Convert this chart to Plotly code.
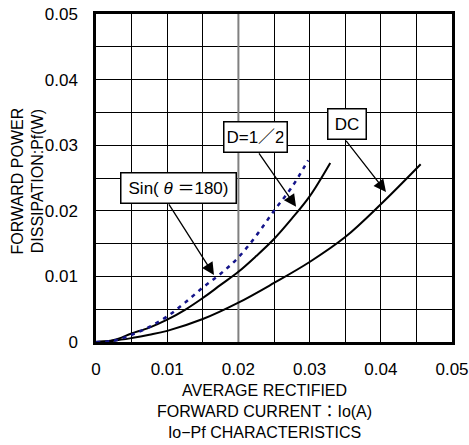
import plotly.graph_objects as go

# ---- data ----
io_dc = [0, 0.0025, 0.005, 0.0075, 0.01, 0.015, 0.02, 0.025, 0.03, 0.035, 0.04, 0.0456]
pf_dc = [0, 0.0002, 0.0006, 0.0011, 0.0017, 0.0035, 0.0060, 0.0090, 0.0122, 0.0160, 0.0210, 0.0271]

io_half = [0, 0.0025, 0.005, 0.0075, 0.01, 0.0125, 0.015, 0.0175, 0.02, 0.0225, 0.025, 0.0275, 0.03, 0.0329]
pf_half = [0, 0.0003, 0.0013, 0.0022, 0.0034, 0.0049, 0.0067, 0.0087, 0.0107, 0.0131, 0.0157, 0.0188, 0.0222, 0.0273]

io_sin = [0, 0.0025, 0.005, 0.0075, 0.01, 0.0125, 0.015, 0.0175, 0.02, 0.0225, 0.025, 0.0275, 0.0298]
pf_sin = [0, 0.0002, 0.0011, 0.0023, 0.0039, 0.0060, 0.0083, 0.0104, 0.0129, 0.0162, 0.0200, 0.0236, 0.0277]

x_ticks = [0, 0.01, 0.02, 0.03, 0.04, 0.05]
x_ticktext = ["0", "0.01", "0.02", "0.03", "0.04", "0.05"]
y_ticks = [0, 0.01, 0.02, 0.03, 0.04, 0.05]
y_ticktext = ["0", "0.01", "0.02", "0.03", "0.04", "0.05"]

FONT = "Liberation Sans, Arial, Noto Sans CJK JP, sans-serif"

fig = go.Figure()
# the 0.02 gridline is drawn grey and slightly heavier in the reference (drawn beneath the curves)
fig.add_trace(go.Scatter(x=[x_ticks[2], x_ticks[2]], y=[y_ticks[0], y_ticks[-1]], mode="lines",
                         line=dict(color="#808080", width=2), showlegend=False, hoverinfo="skip"))
fig.add_trace(go.Scatter(x=io_dc, y=pf_dc, mode="lines", line=dict(color="black", width=2, shape="spline"), showlegend=False))
fig.add_trace(go.Scatter(x=io_half, y=pf_half, mode="lines", line=dict(color="black", width=2, shape="spline"), showlegend=False))
fig.add_trace(go.Scatter(x=io_sin, y=pf_sin, mode="lines", line=dict(color="#14148a", width=2.5, shape="spline", dash="4px,5px"), showlegend=False))

axis_common = dict(
    range=[0, 0.05], showgrid=True, gridcolor="black", gridwidth=1,
    minor=dict(dtick=0.005, showgrid=True, gridcolor="black", gridwidth=1),
    showline=True, linecolor="black", linewidth=2.5, mirror=True,
    zeroline=False, ticks="", automargin=False,
    tickfont=dict(family=FONT, size=17, color="black"),
)
fig.update_xaxes(tickvals=x_ticks, ticktext=x_ticktext, ticklabelstandoff=10, **axis_common)
fig.update_yaxes(tickvals=y_ticks, ticktext=y_ticktext, ticklabelstandoff=12, **axis_common)

anns = []
# axis titles
anns.append(dict(xref="paper", yref="paper", x=0.4747, y=-0.2134, xanchor="center", yanchor="middle",
                 text="AVERAGE RECTIFIED<br>FORWARD CURRENT：Io(A)<br>Io−Pf CHARACTERISTICS",
                 showarrow=False, font=dict(family=FONT, size=16, color="black")))
anns.append(dict(xref="paper", yref="paper", x=-0.1924, y=0.491, xanchor="center", yanchor="middle",
                 text="FORWARD POWER<br>DISSIPATION:Pf(W)", textangle=-90,
                 showarrow=False, font=dict(family=FONT, size=16, color="black")))

box = dict(showarrow=False, bgcolor="white", bordercolor="black", borderwidth=1.5, borderpad=3,
           font=dict(family=FONT, size=17, color="black"), xanchor="center", yanchor="middle", height=23)
anns.append(dict(x=0.0224, y=0.03125, text="D=1／2", width=56, **box))
anns.append(dict(x=0.03525, y=0.0332, text="DC", width=31, **box))
anns.append(dict(x=0.01159, y=0.02355, text="Sin( <i>θ</i> ＝180)", width=108, **box))

arrow = dict(text="", showarrow=True, axref="x", ayref="y", arrowhead=2, arrowsize=1.9,
             arrowwidth=1.3, arrowcolor="black", standoff=0)
anns.append(dict(x=0.0281, y=0.0206, ax=0.02275, ay=0.0290, **arrow))
anns.append(dict(x=0.04073, y=0.02287, ax=0.03497, ay=0.0309, **arrow))
anns.append(dict(x=0.01657, y=0.01021, ax=0.01011, ay=0.0212, **arrow))

fig.update_layout(
    width=469, height=445,
    margin=dict(l=96, r=17, t=14, b=103, autoexpand=False),
    paper_bgcolor="white", plot_bgcolor="white",
    annotations=anns,
    font=dict(family=FONT, size=16, color="black"),
)
fig.write_html("out.html")
